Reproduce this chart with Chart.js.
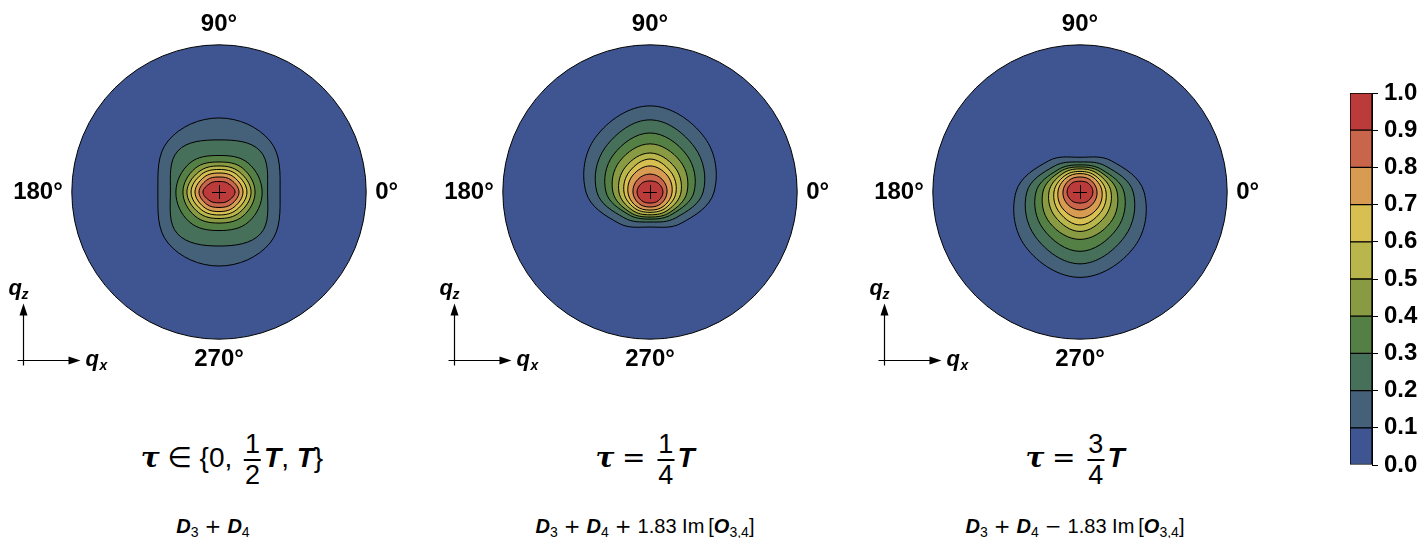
<!DOCTYPE html>
<html>
<head>
<meta charset="utf-8">
<script src="https://cdn.jsdelivr.net/npm/chart.js@4/dist/chart.umd.min.js"></script>
<style>
  html, body { margin: 0; padding: 0; background: #fff; }
  #wrap { position: relative; width: 1423px; height: 538px; overflow: hidden; font-family: "Liberation Sans", "DejaVu Sans", sans-serif; color: #000; }
  canvas { position: absolute; }
  .ttl { position: absolute; top: 423px; height: 70px; line-height: 70px; font-size: 28px; white-space: nowrap; transform: translateX(-50%); }
  .sub { position: absolute; top: 514px; height: 24px; line-height: 24px; font-size: 20px; white-space: nowrap; transform: translateX(-50%); }
  .mi { font-style: italic; font-weight: bold; }
  .tau { font-family: "DejaVu Serif", serif; font-style: italic; font-weight: bold; }
  .sym { font-family: "DejaVu Sans", sans-serif; }
  .op { font-family: "DejaVu Sans", sans-serif; margin: 0 6px; }
  .frac { display: inline-block; vertical-align: middle; text-align: center; font-size: 27px; line-height: 29px; margin: 0 3px 0 4px; }
  .frac > span { display: block; }
  .frac > span:first-child { border-bottom: 2px solid #000; padding: 0 1px; }
  sub { font-size: 14px; vertical-align: -4px; line-height: 0; }
</style>
</head>
<body>
<div id="wrap">
  <canvas id="pA" width="480" height="400" style="left:-21px;top:-7px"></canvas>
  <canvas id="pB" width="480" height="400" style="left:410px;top:-7px"></canvas>
  <canvas id="pC" width="480" height="400" style="left:840px;top:-7px"></canvas>
  <canvas id="cbar" width="83" height="538" style="left:1340px;top:0"></canvas>

  <div class="ttl" style="left:232px"><span class="tau">τ</span> <span class="sym">∈</span> {0, <span class="frac"><span>1</span><span>2</span></span><span class="mi">T</span>, <span class="mi">T</span>}</div>
  <div class="ttl" style="left:645px"><span class="tau">τ</span> <span class="sym">=</span> <span class="frac"><span>1</span><span>4</span></span><span class="mi">T</span></div>
  <div class="ttl" style="left:1075px"><span class="tau">τ</span> <span class="sym">=</span> <span class="frac"><span>3</span><span>4</span></span><span class="mi">T</span></div>

  <div class="sub" style="left:213px"><span class="mi">D</span><sub>3</sub><span class="op">+</span><span class="mi">D</span><sub>4</sub></div>
  <div class="sub" style="left:645px"><span class="mi">D</span><sub>3</sub><span class="op">+</span><span class="mi">D</span><sub>4</sub><span class="op">+</span>1.83 Im<span style="margin-left:4px">[</span><span class="mi">O</span><sub>3,4</sub>]</div>
  <div class="sub" style="left:1075px"><span class="mi">D</span><sub>3</sub><span class="op">+</span><span class="mi">D</span><sub>4</sub><span class="op">−</span>1.83 Im<span style="margin-left:4px">[</span><span class="mi">O</span><sub>3,4</sub>]</div>
</div>

<script>
// spokes of the polar plots, clockwise from the top: N, NE, E, SE, S, SW, W, NW
const spokeLabels = ['90°', '', '0°', '', '270°', '', '180°', ''];

// colour scale edges and band colours
const levels = [0.0, 0.1, 0.2, 0.3, 0.4, 0.5, 0.6, 0.7, 0.8, 0.9, 1.0];
const bandColors = ['#3e5591', '#446179', '#46705a', '#548046', '#889a42', '#b9b64b', '#d7bf52', '#d89b52', '#c8654a', '#bb3b3b'];

// contour radii (fraction of the rim radius) along the spokes, one row per level 0.1 ... 0.9
const contoursA = [
  [0.503, 0.490, 0.415, 0.490, 0.503, 0.490, 0.415, 0.490],
  [0.354, 0.395, 0.330, 0.400, 0.367, 0.400, 0.330, 0.395],
  [0.248, 0.279, 0.293, 0.286, 0.262, 0.286, 0.293, 0.279],
  [0.204, 0.228, 0.245, 0.231, 0.211, 0.231, 0.245, 0.228],
  [0.177, 0.194, 0.218, 0.197, 0.180, 0.197, 0.218, 0.194],
  [0.153, 0.169, 0.190, 0.170, 0.156, 0.170, 0.190, 0.169],
  [0.129, 0.143, 0.163, 0.145, 0.133, 0.145, 0.163, 0.143],
  [0.102, 0.116, 0.136, 0.118, 0.105, 0.118, 0.136, 0.116],
  [0.071, 0.084, 0.109, 0.086, 0.073, 0.086, 0.109, 0.084]
];
const contoursB = [
  [0.585, 0.524, 0.435, 0.300, 0.238, 0.300, 0.435, 0.524],
  [0.490, 0.429, 0.361, 0.248, 0.204, 0.248, 0.361, 0.429],
  [0.401, 0.354, 0.299, 0.213, 0.184, 0.213, 0.299, 0.354],
  [0.327, 0.293, 0.252, 0.194, 0.170, 0.194, 0.252, 0.293],
  [0.265, 0.238, 0.211, 0.173, 0.155, 0.173, 0.211, 0.238],
  [0.224, 0.197, 0.177, 0.152, 0.138, 0.152, 0.177, 0.197],
  [0.177, 0.163, 0.150, 0.134, 0.123, 0.134, 0.150, 0.163],
  [0.122, 0.119, 0.116, 0.109, 0.102, 0.109, 0.116, 0.119],
  [0.075, 0.082, 0.088, 0.082, 0.075, 0.082, 0.088, 0.082]
];
const contoursC = [
  [0.236, 0.300, 0.435, 0.524, 0.580, 0.524, 0.435, 0.300],
  [0.204, 0.248, 0.361, 0.429, 0.488, 0.429, 0.361, 0.248],
  [0.184, 0.213, 0.299, 0.354, 0.403, 0.354, 0.299, 0.213],
  [0.170, 0.194, 0.252, 0.293, 0.322, 0.293, 0.252, 0.194],
  [0.157, 0.173, 0.211, 0.238, 0.268, 0.238, 0.211, 0.173],
  [0.140, 0.152, 0.177, 0.197, 0.224, 0.197, 0.177, 0.152],
  [0.125, 0.134, 0.150, 0.163, 0.177, 0.163, 0.150, 0.134],
  [0.102, 0.109, 0.116, 0.119, 0.122, 0.119, 0.116, 0.109],
  [0.073, 0.082, 0.088, 0.082, 0.075, 0.082, 0.088, 0.082]
];

const FONT = '"Liberation Sans", "DejaVu Sans", sans-serif';

// centre cross and the q_x / q_z arrows, placed from the radial scale centre
const decor = {
  id: 'decor',
  afterDatasetsDraw(chart) {
    const s = chart.scales.r;
    const ctx = chart.ctx;
    const cx = s.xCenter, cy = s.yCenter;
    ctx.save();
    ctx.strokeStyle = '#000';
    ctx.fillStyle = '#000';
    ctx.lineWidth = 1;
    ctx.beginPath();
    ctx.moveTo(cx - 7, cy + 0.5); ctx.lineTo(cx + 7, cy + 0.5);
    ctx.moveTo(cx + 0.5, cy - 7); ctx.lineTo(cx + 0.5, cy + 7);
    ctx.stroke();

    const ox = cx - 195.5, oy = cy + 168.5;
    ctx.lineWidth = 1.2;
    ctx.beginPath();
    ctx.moveTo(ox, oy + 5); ctx.lineTo(ox, oy - 48);
    ctx.moveTo(ox - 6, oy); ctx.lineTo(ox + 48, oy);
    ctx.stroke();
    ctx.beginPath();
    ctx.moveTo(ox, oy - 57); ctx.lineTo(ox - 4, oy - 45); ctx.lineTo(ox + 4, oy - 45); ctx.closePath();
    ctx.fill();
    ctx.beginPath();
    ctx.moveTo(ox + 57, oy); ctx.lineTo(ox + 45, oy - 4); ctx.lineTo(ox + 45, oy + 4); ctx.closePath();
    ctx.fill();

    ctx.textBaseline = 'alphabetic';
    ctx.font = 'italic bold 22px ' + FONT;
    ctx.fillText('q', ox - 15, oy - 66);
    ctx.fillText('q', ox + 62, oy + 5);
    ctx.font = 'italic bold 14px ' + FONT;
    ctx.fillText('z', ox - 2, oy - 62);
    ctx.fillText('x', ox + 76, oy + 9);
    ctx.restore();
  }
};

function polarPanel(id, contours) {
  const datasets = contours.map((radii, i) => ({
    label: 'level ' + levels[i + 1].toFixed(1),
    data: radii,
    fill: 'origin',
    backgroundColor: bandColors[i + 1],
    borderColor: '#000',
    borderWidth: 1,
    pointRadius: 0,
    tension: 0.38
  })).reverse(); // innermost first so it is drawn on top

  return new Chart(document.getElementById(id), {
    type: 'radar',
    data: { labels: spokeLabels, datasets: datasets },
    options: {
      responsive: false,
      animation: false,
      layout: { padding: { top: 21, bottom: 21 } },
      plugins: { legend: { display: false }, tooltip: { enabled: false } },
      scales: {
        r: {
          min: 0,
          max: 1,
          backgroundColor: bandColors[0],
          angleLines: { display: false },
          grid: { circular: true, color: '#000', lineWidth: 1 },
          ticks: { display: false, stepSize: 1 },
          pointLabels: {
            color: '#000',
            padding: 9,
            font: { family: FONT, size: 24, weight: 'bold', lineHeight: 0.95 }
          }
        }
      }
    },
    plugins: [decor]
  });
}

polarPanel('pA', contoursA);
polarPanel('pB', contoursB);
polarPanel('pC', contoursC);

// colour bar: one floating bar segment per band
new Chart(document.getElementById('cbar'), {
  type: 'bar',
  data: {
    labels: [''],
    datasets: bandColors.map((c, i) => ({
      data: [[levels[i], levels[i + 1]]],
      backgroundColor: c,
      borderColor: '#000',
      borderWidth: 1,
      borderSkipped: false,
      categoryPercentage: 1,
      barPercentage: 1,
      grouped: false
    }))
  },
  options: {
    responsive: false,
    animation: false,
    layout: { padding: { left: 10, top: 93, bottom: 73, right: 0 } },
    plugins: { legend: { display: false }, tooltip: { enabled: false } },
    scales: {
      x: { display: false },
      y: {
        position: 'right',
        min: 0,
        max: 1,
        afterFit: s => { s.width = 51; },
        grid: { color: '#000', lineWidth: 1, tickLength: 6, drawOnChartArea: false },
        border: { color: '#000', width: 1 },
        ticks: {
          stepSize: 0.1,
          padding: 6,
          color: '#000',
          font: { family: FONT, size: 24, weight: 'bold' },
          callback: v => v.toFixed(1)
        }
      }
    }
  }
});
</script>
</body>
</html>
